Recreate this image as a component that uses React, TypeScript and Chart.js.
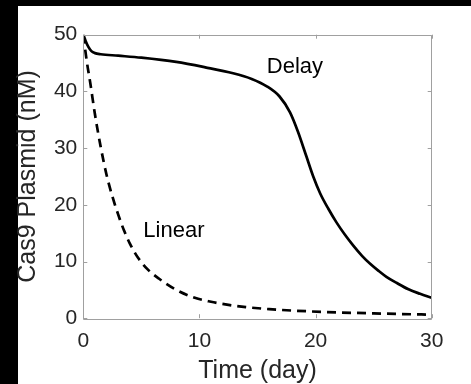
import React, { useEffect, useRef } from "react";
import { Chart, registerables } from "chart.js";

Chart.register(...registerables);

// Time (day) and Cas9 plasmid (nM)
const delayTime = [0, 0.2, 0.45, 0.7, 1.0, 1.5, 3, 5, 8, 10.5, 12.9, 14.5, 15.8, 16.9, 17.8, 18.5, 19.2, 19.8, 20.4, 21.1, 21.8, 22.5, 23.25, 24, 24.7, 25.4, 26.1, 27, 28, 29, 30];
const delayValue = [50, 48.9, 47.8, 47.1, 46.75, 46.55, 46.3, 45.95, 45.2, 44.25, 43.2, 42.2, 40.9, 39.1, 36.3, 32.8, 28.6, 25.0, 22.0, 19.3, 16.9, 14.8, 12.8, 11.0, 9.6, 8.4, 7.3, 6.2, 5.1, 4.3, 3.6];

const linearTime = [0, 0.3, 0.6, 1.0, 1.5, 2.0, 2.5, 3.0, 3.5, 4.0, 4.7, 5.5, 6.5, 8, 9.6, 11, 12.5, 14, 16, 18, 20.5, 25, 30];
const linearValue = [50, 45.3, 41.5, 36.0, 30.2, 25.3, 21.5, 18.3, 15.5, 13.2, 10.7, 8.7, 7.0, 5.0, 3.6, 2.9, 2.35, 1.95, 1.6, 1.35, 1.12, 0.85, 0.62];

const xTickValues = [0, 10, 20, 30];
const yTickValues = [0, 10, 20, 30, 40, 50];

const curveLabels = [
  { text: "Delay", x: 15.8, y: 43.2 },
  { text: "Linear", x: 5.17, y: 14.27 },
];

const FONT = "'Liberation Sans', Arial, Helvetica, sans-serif";

const framePlugin = {
  id: "frame",
  beforeDraw(chart: any) {
    const ctx = chart.ctx;
    ctx.save();
    ctx.fillStyle = "#000";
    ctx.fillRect(0, 0, chart.width, chart.height);
    ctx.fillStyle = "#fff";
    ctx.fillRect(18, 6, chart.width - 18, chart.height - 6);
    ctx.restore();
  },
  afterDatasetsDraw(chart: any) {
    const ctx = chart.ctx;
    const { left, right, top, bottom } = chart.chartArea;
    const xs = chart.scales.x;
    const ys = chart.scales.y;
    ctx.save();
    ctx.strokeStyle = "#a0a0a0";
    ctx.lineWidth = 1;
    ctx.beginPath();
    ctx.rect(Math.round(left) + 0.5, Math.round(top) + 0.5, Math.round(right - left), Math.round(bottom - top));
    ctx.stroke();
    const tl = 4;
    ctx.beginPath();
    xTickValues.forEach((v) => {
      const px = Math.round(xs.getPixelForValue(v)) + 0.5;
      ctx.moveTo(px, bottom);
      ctx.lineTo(px, bottom - tl);
      ctx.moveTo(px, top);
      ctx.lineTo(px, top + tl);
    });
    yTickValues.forEach((v) => {
      const py = Math.round(ys.getPixelForValue(v)) + 0.5;
      ctx.moveTo(left, py);
      ctx.lineTo(left + tl, py);
      ctx.moveTo(right, py);
      ctx.lineTo(right - tl, py);
    });
    ctx.stroke();

    ctx.fillStyle = "#000";
    ctx.font = `22px ${FONT}`;
    ctx.textAlign = "left";
    ctx.textBaseline = "alphabetic";
    curveLabels.forEach((l) => {
      ctx.fillText(l.text, xs.getPixelForValue(l.x), ys.getPixelForValue(l.y));
    });
    ctx.restore();
  },
};

export default function App() {
  const ref = useRef<HTMLCanvasElement | null>(null);

  useEffect(() => {
    if (!ref.current) return;
    const chart = new Chart(ref.current, {
      type: "line",
      data: {
        datasets: [
          {
            label: "Delay",
            data: delayTime.map((t, i) => ({ x: t, y: delayValue[i] })),
            borderColor: "#000",
            borderWidth: 2.7,
            pointRadius: 0,
            cubicInterpolationMode: "monotone",
            fill: false,
          },
          {
            label: "Linear",
            data: linearTime.map((t, i) => ({ x: t, y: linearValue[i] })),
            borderColor: "#000",
            borderWidth: 2.7,
            borderDash: [9, 6],
            pointRadius: 0,
            cubicInterpolationMode: "monotone",
            fill: false,
          },
        ],
      },
      options: {
        animation: false,
        responsive: false,
        maintainAspectRatio: false,
        layout: { padding: { left: 12.5, right: 39.3, top: 34.7, bottom: 0 } },
        plugins: { legend: { display: false }, tooltip: { enabled: false } },
        scales: {
          x: {
            type: "linear",
            min: 0,
            max: 30,
            afterBuildTicks: (s: any) => {
              s.ticks = xTickValues.map((v) => ({ value: v }));
            },
            afterFit: (s: any) => {
              s.height = 65.8;
            },
            grid: { display: false, drawTicks: false },
            border: { display: false },
            ticks: {
              padding: 10,
              color: "#262626",
              font: { family: FONT, size: 21 },
              maxRotation: 0,
            },
            title: {
              display: true,
              text: "Time (day)",
              color: "#262626",
              font: { family: FONT, size: 25, lineHeight: 1 },
              padding: { top: 5.9, bottom: 0.7 },
            },
          },
          y: {
            type: "linear",
            min: 0,
            max: 50,
            afterBuildTicks: (s: any) => {
              s.ticks = yTickValues.map((v) => ({ value: v }));
            },
            afterFit: (s: any) => {
              s.width = 70.8;
            },
            grid: { display: false, drawTicks: false },
            border: { display: false },
            ticks: {
              padding: 6,
              color: "#262626",
              font: { family: FONT, size: 21 },
            },
            title: {
              display: true,
              text: "Cas9 Plasmid (nM)",
              color: "#262626",
              font: { family: FONT, size: 25, lineHeight: 1 },
              padding: { top: 3.5, bottom: 13 },
            },
          },
        },
      },
      plugins: [framePlugin],
    } as any);
    return () => chart.destroy();
  }, []);

  return (
    <div style={{ position: "fixed", left: 0, top: 0, width: 471, height: 384 }}>
      <canvas ref={ref} width={471} height={384} style={{ display: "block" }} />
    </div>
  );
}
